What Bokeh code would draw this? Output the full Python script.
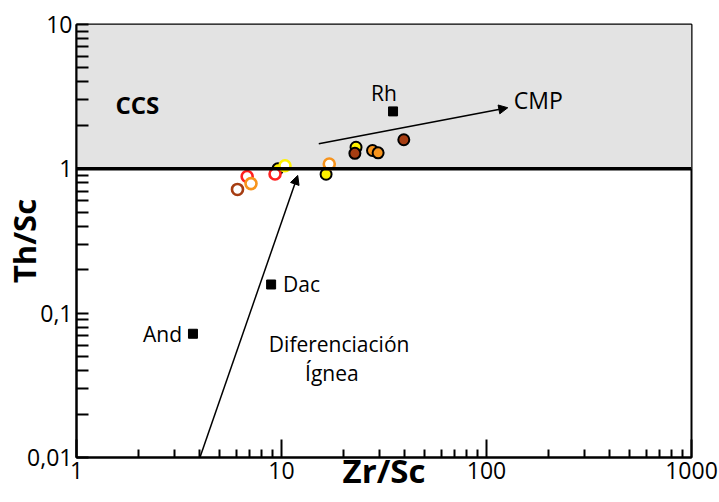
from bokeh.plotting import figure
from bokeh.models import (BoxAnnotation, Span, Arrow, NormalHead, Label,
                          FixedTicker, ColumnDataSource)
from bokeh.embed import file_html
from bokeh.resources import INLINE

# ---------------- data ----------------
# samples drawn as coloured rings (white centre)
ring_zr_sc = [6.1, 6.8, 7.1, 9.3, 10.4, 17.1]
ring_th_sc = [0.72, 0.885, 0.79, 0.92, 1.05, 1.08]
ring_colors = ["#a63d12", "#ff2020", "#f7941d", "#ff2020", "#fff200", "#f7941d"]

# samples drawn as filled markers with black outline
filled_zr_sc = [9.6, 16.5, 23.1, 22.8, 27.8, 29.6, 39.5]
filled_th_sc = [1.0, 0.917, 1.41, 1.28, 1.34, 1.29, 1.59]
filled_colors = ["#fff200", "#fff200", "#fff200", "#a63d12", "#f7941d", "#f7941d", "#a63d12"]

# reference compositions
ref_names = ["And", "Dac", "Rh"]
ref_zr_sc = [3.7, 8.9, 35.0]
ref_th_sc = [0.072, 0.158, 2.5]

# CCS field
ccs_bottom = 1.0
ccs_top = 10.0

# trends
igneous_x = [4.0, 12.0]
igneous_y = [0.01, 0.9]
cmp_x = [15.2, 127.0]
cmp_y = [1.49, 2.65]

# axes
x_range = (1, 1000)
y_range = (0.01, 10)
x_tick_vals = [1, 10, 100, 1000]
x_tick_labels = ["1", "10", "100", "1000"]
y_tick_vals = [0.01, 0.1, 1, 10]
y_tick_labels = ["0,01", "0,1", "1", "10"]
x_title = "Zr/Sc"
y_title = "Th/Sc"

FONT = "Open Sans"

# ---------------- figure ----------------
p = figure(width=719, height=502, x_axis_type="log", y_axis_type="log",
           x_range=x_range, y_range=y_range, output_backend="svg",
           toolbar_location=None, min_border_left=74, min_border_right=28,
           min_border_top=24, min_border_bottom=45)
p.background_fill_color = "white"
p.border_fill_color = "white"
p.outline_line_color = "black"
p.outline_line_width = 2
p.xgrid.visible = False
p.ygrid.visible = False

def minor(vals):
    out = []
    for a, b in zip(vals[:-1], vals[1:]):
        for k in range(2, 10):
            out.append(a * k)
    return out

p.xaxis.ticker = FixedTicker(ticks=x_tick_vals, minor_ticks=minor(x_tick_vals))
p.yaxis.ticker = FixedTicker(ticks=y_tick_vals, minor_ticks=minor(y_tick_vals))
p.xaxis.major_label_overrides = dict(zip(x_tick_vals, x_tick_labels))
p.yaxis.major_label_overrides = dict(zip(y_tick_vals, y_tick_labels))

for ax in (p.xaxis, p.yaxis):
    ax.axis_line_color = "black"
    ax.axis_line_width = 2
    ax.major_tick_line_color = "black"
    ax.minor_tick_line_color = "black"
    ax.major_tick_line_width = 2
    ax.minor_tick_line_width = 2
    ax.major_tick_out = 0
    ax.minor_tick_out = 0
    ax.major_label_text_font = FONT
    ax.major_label_text_font_size = "23px"
    ax.major_label_text_color = "black"
    ax.major_label_standoff = 4
    ax.axis_label_text_font = FONT
    ax.axis_label_text_font_style = "bold"
    ax.axis_label_text_color = "black"

p.xaxis.axis_label = x_title
p.yaxis.axis_label = y_title
p.xaxis.axis_label_text_font_size = "33px"
p.yaxis.axis_label_text_font_size = "31px"
p.xaxis.axis_label_standoff = -34
p.yaxis.axis_label_standoff = -21

p.xaxis.major_tick_in = 18
p.xaxis.minor_tick_in = 8
p.yaxis.major_tick_in = 12
p.yaxis.minor_tick_in = 12

# CCS grey field and boundary
p.add_layout(BoxAnnotation(bottom=ccs_bottom, top=ccs_top, fill_color="#e3e3e3",
                           fill_alpha=1, line_color=None, level="underlay"))
p.add_layout(Span(location=ccs_bottom, dimension="width", line_color="black",
                  line_width=3.5))

# trend arrows
p.add_layout(Arrow(x_start=igneous_x[0], y_start=igneous_y[0],
                   x_end=igneous_x[1], y_end=igneous_y[1],
                   line_color="black", line_width=1.5,
                   end=NormalHead(size=9, fill_color="black", line_color="black")))
p.add_layout(Arrow(x_start=cmp_x[0], y_start=cmp_y[0],
                   x_end=cmp_x[1], y_end=cmp_y[1],
                   line_color="black", line_width=1.5,
                   end=NormalHead(size=9, fill_color="black", line_color="black")))

# reference squares
ref_src = ColumnDataSource(dict(x=ref_zr_sc, y=ref_th_sc, name=ref_names))
p.scatter("x", "y", source=ref_src, marker="square", size=9,
          fill_color="black", line_color="black")

# samples
p.scatter(filled_zr_sc, filled_th_sc, size=11, fill_color=filled_colors,
          line_color="black", line_width=2)
p.scatter(ring_zr_sc, ring_th_sc, size=11, fill_color="white",
          line_color=ring_colors, line_width=2.6)

# reference labels
offsets = {"And": (-11, 0, "right"), "Dac": (12, 0, "left"), "Rh": (-9, 18, "center")}
for n, x, y in zip(ref_names, ref_zr_sc, ref_th_sc):
    dx, dy, al = offsets[n]
    p.add_layout(Label(x=x, y=y, text=n, x_offset=dx, y_offset=dy,
                       text_align=al, text_baseline="middle", text_color="black",
                       text_font=FONT, text_font_size="21px"))

# field / trend labels
p.add_layout(Label(x=1.98, y=2.79, text="CCS", text_align="center",
                   text_baseline="middle", text_font=FONT, text_color="black",
                   text_font_size="24px", text_font_style="bold"))
p.add_layout(Label(x=cmp_x[1], y=cmp_y[1], x_offset=6, y_offset=8, text="CMP",
                   text_align="left", text_baseline="middle", text_color="black",
                   text_font=FONT, text_font_size="23px"))
p.add_layout(Label(x=19.1, y=0.0616, text="Diferenciación", text_align="center",
                   text_baseline="middle", text_font=FONT, text_color="black",
                   text_font_size="21px"))
p.add_layout(Label(x=17.6, y=0.0382, text="Ígnea", text_align="center",
                   text_baseline="middle", text_font=FONT, text_color="black",
                   text_font_size="21px"))

open("out.html", "w").write(file_html(p, INLINE))
